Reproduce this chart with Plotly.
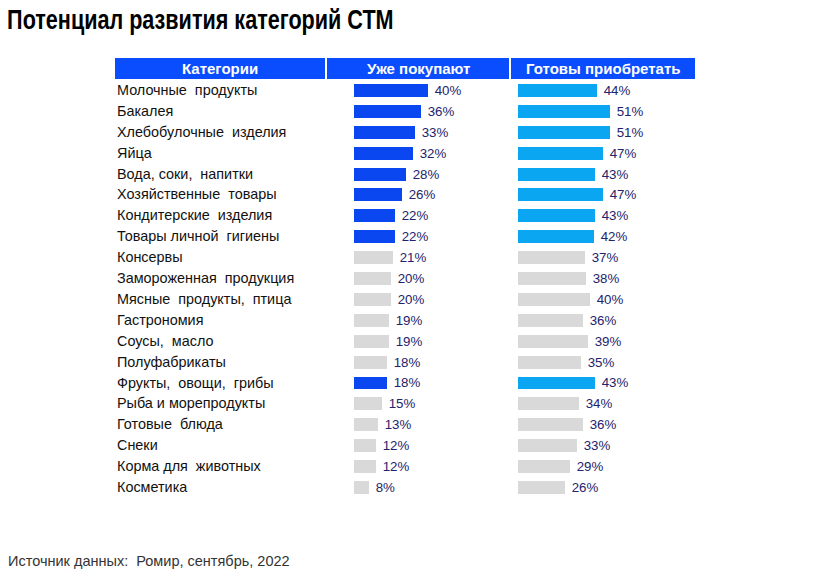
import plotly.graph_objects as go

W, H = 834, 583

title = "Потенциал развития категорий СТМ"
source = "Источник данных:  Ромир, сентябрь, 2022"
headers = ["Категории", "Уже покупают", "Готовы приобретать"]

categories = [
    "Молочные  продукты", "Бакалея", "Хлебобулочные  изделия", "Яйца",
    "Вода, соки,  напитки", "Хозяйственные  товары", "Кондитерские  изделия",
    "Товары личной  гигиены", "Консервы", "Замороженная  продукция",
    "Мясные  продукты,  птица", "Гастрономия", "Соусы,  масло", "Полуфабрикаты",
    "Фрукты,  овощи,  грибы", "Рыба и морепродукты", "Готовые  блюда", "Снеки",
    "Корма для  животных", "Косметика",
]
already_buy = [40, 36, 33, 32, 28, 26, 22, 22, 21, 20, 20, 19, 19, 18, 18, 15, 13, 12, 12, 8]
ready_to_buy = [44, 51, 51, 47, 43, 47, 43, 42, 37, 38, 40, 36, 39, 35, 43, 34, 36, 33, 29, 26]
highlighted = [True] * 8 + [False] * 6 + [True] + [False] * 5

C_BUY = "#0A47F0"
C_READY = "#0AA6F2"
C_GREY = "#D9D9D9"
C_HEADER = "#0A4DFF"
C_VAL = "#23236B"


def px(x):
    return x / W


def py(y):
    return 1 - y / H


keys = list(range(len(categories)))
NB = "\u00a0"

fig = go.Figure()
fig.add_trace(go.Bar(
    y=keys, x=already_buy, orientation="h", xaxis="x", yaxis="y",
    marker=dict(color=[C_BUY if h else C_GREY for h in highlighted], line=dict(width=0)),
    width=0.62, text=[f"{NB}{v}%" for v in already_buy], textposition="outside",
    constraintext="none",
    textfont=dict(family="Liberation Sans, Arial", size=13.3, color=C_VAL),
    cliponaxis=False, hoverinfo="skip",
))
fig.add_trace(go.Bar(
    y=keys, x=ready_to_buy, orientation="h", xaxis="x2", yaxis="y",
    marker=dict(color=[C_READY if h else C_GREY for h in highlighted], line=dict(width=0)),
    width=0.62, text=[f"{NB}{v}%" for v in ready_to_buy], textposition="outside",
    constraintext="none",
    textfont=dict(family="Liberation Sans, Arial", size=13.3, color=C_VAL),
    cliponaxis=False, hoverinfo="skip",
))

row_top, row_bot = 90, 487
step = (row_bot - row_top) / (len(categories) - 1)
ydom = [py(row_bot + step / 2), py(row_top - step / 2)]

shapes = []
annotations = []
cells = [(115, 325), (327, 509), (511, 695)]
for (x0, x1), txt in zip(cells, headers):
    shapes.append(dict(type="rect", xref="paper", yref="paper", x0=px(x0), x1=px(x1),
                       y0=py(79), y1=py(58), fillcolor=C_HEADER, line=dict(width=0), layer="below"))
    annotations.append(dict(xref="paper", yref="paper", x=px((x0 + x1) / 2), y=py(68.5),
                            text=f"<b>{txt}</b>", showarrow=False, xanchor="center", yanchor="middle",
                            font=dict(family="Liberation Sans, Arial", size=15, color="white")))

for k, c in zip(keys, categories):
    annotations.append(dict(xref="paper", yref="y", x=px(115), y=k, text=c.replace("  ", NB + " "),
                            showarrow=False, xanchor="left", yanchor="middle",
                            font=dict(family="Liberation Sans, Arial", size=14.4, color="#111111")))

annotations.append(dict(xref="paper", yref="paper", x=px(5), y=py(20), text=f"<b>{title}</b>",
                        showarrow=False, xanchor="left", yanchor="middle",
                        font=dict(family="Liberation Sans, Arial", size=27, color="#000000")))
annotations.append(dict(xref="paper", yref="paper", x=px(6), y=py(561), text=source.replace("  ", NB + " "),
                        showarrow=False, xanchor="left", yanchor="middle",
                        font=dict(family="Liberation Sans, Arial", size=14.5, color="#333333")))

fig.update_layout(
    width=W, height=H, margin=dict(l=0, r=0, t=0, b=0),
    paper_bgcolor="white", plot_bgcolor="rgba(0,0,0,0)", showlegend=False,
    xaxis=dict(domain=[px(354), px(354 + 1.85 * 80)], range=[0, 80], visible=False, fixedrange=True),
    xaxis2=dict(domain=[px(518), px(518 + 1.8 * 90)], range=[0, 90], visible=False, fixedrange=True),
    yaxis=dict(domain=ydom, type="linear", range=[len(categories) - 0.5, -0.5], visible=False, fixedrange=True),
    shapes=shapes, annotations=annotations, bargap=0,
)

# Remove the page margin and narrow the title to mimic a condensed bold face (text stays real text)
post = """
document.body.style.margin = '0';
document.querySelectorAll('.annotation-text').forEach(function(t){
  if (t.textContent.indexOf('Потенциал') === 0) {
    t.style.transformBox = 'fill-box';
    t.style.transformOrigin = 'left center';
    t.style.transform = 'scaleX(0.80)';
  }
});
"""
fig.write_html("out.html", post_script=post, config={"displayModeBar": False})
